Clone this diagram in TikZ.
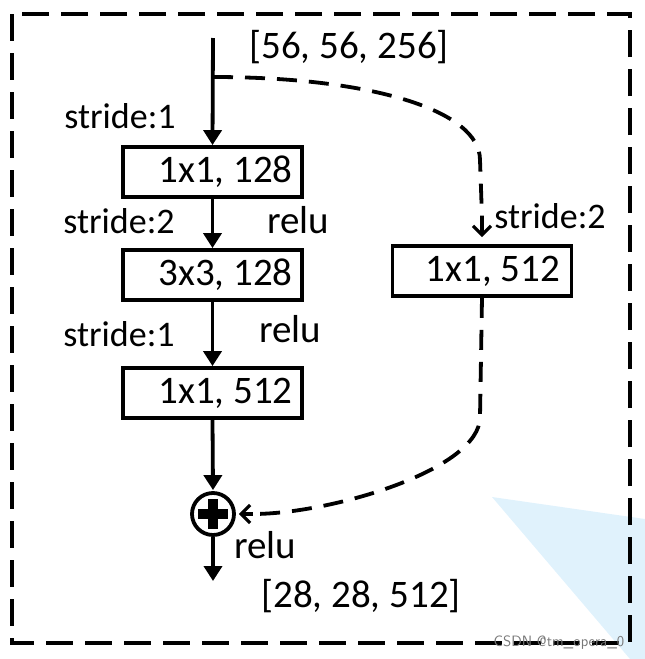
\documentclass[tikz,border=0pt]{standalone}
\usepackage{fontspec}
\setmainfont{Carlito}
\usetikzlibrary{arrows.meta}
\definecolor{bgblue}{RGB}{224,242,252}
\definecolor{wmgray}{RGB}{120,120,120}
\begin{document}
\begin{tikzpicture}[x=1pt,y=-1pt,
  box/.style={draw, line width=3.8pt, minimum width=179pt, minimum height=50pt, inner sep=0pt, font=\fontsize{39}{44}\selectfont},
  lab/.style={inner sep=0pt, anchor=base, font=\fontsize{39}{44}\selectfont},
  slab/.style={inner sep=0pt, anchor=base, font=\fontsize{36}{40}\selectfont},
  flow/.style={line width=3.8pt, -{Triangle[width=18pt,length=15pt]}},
  skip/.style={line width=3.8pt, dash pattern=on 20pt off 12pt},
  skiptip/.style={line width=3.2pt, -{Straight Barb[width=18pt,length=9pt]}},
  frame/.style={line width=4.5pt, dash pattern=on 27pt off 12pt}
]
\useasboundingbox (0,0) rectangle (645,659);
% background artefact
\fill[bgblue] (492,497) -- (645,519) -- (645,659) -- (630,659) -- cycle;
% outer dashed frame
\draw[frame] (12,14) rectangle (630,643);
% main column
\coordinate (in) at (213,38);
\coordinate (split) at (213,77);
\coordinate (out) at (213,581);
\node[box] (b1) at (212.5,172) {\hspace*{26pt}1x1, 128};
\node[box] (b2) at (212.5,275) {\hspace*{26pt}3x3, 128};
\node[box] (b3) at (212.5,393) {\hspace*{26pt}1x1, 512};
\node[box] (rb) at (482,271) {\hspace*{22pt}1x1, 512};
\node[draw, circle, line width=3.8pt, minimum size=42pt, inner sep=0pt] (add) at (213,514) {};
\draw[line width=10pt] ([xshift=-15pt]add.center) -- ([xshift=15pt]add.center);
\draw[line width=10pt] ([yshift=-15pt]add.center) -- ([yshift=15pt]add.center);
\draw[flow] (in) -- (b1.north);
\draw[flow] (b1.south) -- (b2.north);
\draw[flow] (b2.south) -- (b3.north);
\draw[flow] (b3.south) -- ([yshift=1pt]add.north);
\draw[flow] (add.south) -- (out);
% shortcut
\coordinate (c1) at (480,160);
\coordinate (c2) at (480,417);
\coordinate (t1) at ([yshift=7pt]rb.north);
\coordinate (t2) at ([xshift=3pt]add.east);
\draw[skip] (split) .. controls (370,77) and (480,110) .. (c1) -- ([yshift=20pt]t1);
\draw[skiptip] ([yshift=20pt]t1) -- (t1);
\draw[skip] (rb.south) -- (c2) .. controls (480,470) and (330,514) .. ([xshift=14pt]t2);
\draw[skiptip] ([xshift=14pt]t2) -- (t2);
% labels
\node[lab] (tin) at (349,58) {[56, 56, 256]};
\node[slab] (s1) at (120,128) {stride:1};
\node[slab] (s2) at (119,233) {stride:2};
\node[lab] (r1) at (298,233) {relu};
\node[slab] (s3) at (550,228) {stride:2};
\node[slab] (s4) at (119,346) {stride:1};
\node[lab] (r2) at (290,342) {relu};
\node[lab] (r3) at (265,558) {relu};
\node[lab] (tout) at (361,607) {[28, 28, 512]};
\node[inner sep=0pt, anchor=base, text=wmgray, font=\fontsize{15}{17}\sffamily] (wm) at (559,646) {CSDN @tm\_opera\_0};
\end{tikzpicture}
\end{document}
